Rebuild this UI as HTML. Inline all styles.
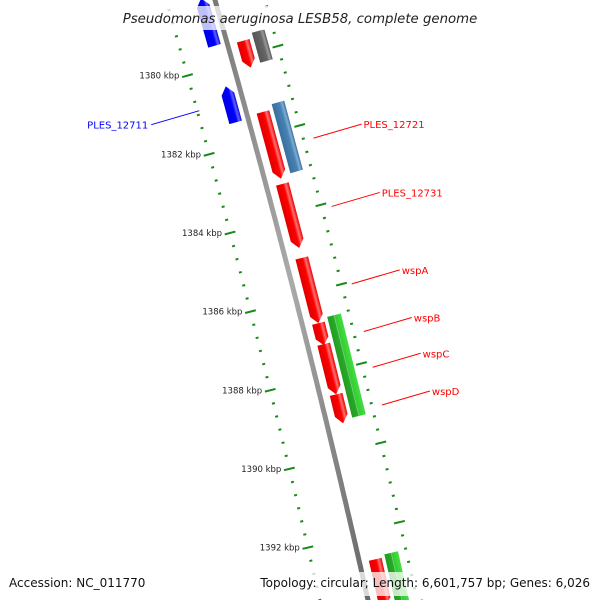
<!DOCTYPE html>
<html><head><meta charset="utf-8"><style>
body{margin:0;background:#fff}
svg{display:block;font-family:"DejaVu Sans","Liberation Sans",sans-serif}
</style></head><body>
<svg id="c" width="600" height="600" viewBox="0 0 600 600">
<defs>
<linearGradient id="gr" x1="0" x2="1"><stop offset="0" stop-color="#e00000"/><stop offset="0.55" stop-color="#ff0000"/><stop offset="0.75" stop-color="#ff7070"/><stop offset="1" stop-color="#e80000"/></linearGradient>
<linearGradient id="gb" x1="0" x2="1"><stop offset="0" stop-color="#0000e0"/><stop offset="0.6" stop-color="#0000ff"/><stop offset="0.8" stop-color="#6060ff"/><stop offset="1" stop-color="#0000e0"/></linearGradient>
<linearGradient id="gg" x1="0" x2="1"><stop offset="0" stop-color="#555"/><stop offset="0.6" stop-color="#666"/><stop offset="0.8" stop-color="#999"/><stop offset="1" stop-color="#555"/></linearGradient>
<linearGradient id="gs" x1="0" x2="1"><stop offset="0" stop-color="#3a6f9e"/><stop offset="0.6" stop-color="#4682b4"/><stop offset="0.8" stop-color="#80acd2"/><stop offset="1" stop-color="#3a6f9e"/></linearGradient>
<linearGradient id="gn" x1="0" x2="1"><stop offset="0" stop-color="#1e9e1e"/><stop offset="0.45" stop-color="#2aa82a"/><stop offset="0.5" stop-color="#7fd67f"/><stop offset="0.55" stop-color="#33cc33"/><stop offset="1" stop-color="#44dd44"/></linearGradient>
<linearGradient id="gl" x1="0" x2="1"><stop offset="0" stop-color="#777"/><stop offset="0.5" stop-color="#aaa"/><stop offset="1" stop-color="#666"/></linearGradient>
</defs>
<g id="ticks"></g>
<path id="backbone" fill="none" stroke="url(#gl)" stroke-width="5"/>
<g id="feats"></g>
<g id="labels"></g>
<rect x="114" y="6" width="372" height="24" fill="#fff" fill-opacity="0.75"/>
<text x="300" y="23" text-anchor="middle" font-size="13.3" font-style="italic" fill="#222">Pseudomonas aeruginosa LESB58, complete genome</text>
<rect x="4" y="572" width="142" height="24" fill="#fff" fill-opacity="0.75"/>
<text x="9" y="587" font-size="12" fill="#111">Accession: NC_011770</text>
<rect x="256" y="572" width="340" height="24" fill="#fff" fill-opacity="0.75"/>
<text x="590" y="587" text-anchor="end" font-size="12" fill="#111">Topology: circular; Length: 6,601,757 bp; Genes: 6,026</text>
</svg>
<script>
const featStart=[1377.87,1379.14,1379.01,1380.10,1380.94,1380.81,1382.76,1384.63,1386.28,1386.18,1386.81,1388.08,1392.25,1392.18];
const featEnd=[1379.07,1379.82,1379.77,1381.01,1382.63,1382.56,1384.38,1386.28,1386.84,1388.73,1388.08,1388.81,1393.44,1393.44];
const featRow=[-1,1,2,-1,1,2,1,1,1,2,1,1,1,2];
const featType=["blue","red","gray","blue","red","steel","red","red","red","green","red","red","red","green"];
const featStrand=[-1,1,0,-1,1,0,1,1,1,0,1,1,1,0];
const labelNames=["PLES_12711","PLES_12721","PLES_12731","wspA","wspB","wspC","wspD"];
const labelFeat=[3,5,6,7,9,10,11];
const labelKbp=[1380.5,1381.88,1383.6,1385.55,1386.75,1387.65,1388.6];
const majorTicks=[1380,1382,1384,1386,1388,1390,1392];
const NS="http://www.w3.org/2000/svg";
const Y0=79,PX=39.5,K0=1380;
function yOf(k){return Y0+(k-K0)*PX;}
function bx(y){return 215+0.285*y-0.00005*y*y;}
function ang(y){return Math.atan(0.285-0.0001*y);}
function pt(y,d){const a=ang(y);return [bx(y)+d*Math.cos(a),y-d*Math.sin(a)];}
function mk(t,attrs,parent){const e=document.createElementNS(NS,t);for(const k in attrs)e.setAttribute(k,attrs[k]);parent.appendChild(e);return e;}
let d="";for(let y=-10;y<=610;y+=5){const p=pt(y,0);d+=(y===-10?"M":"L")+p[0].toFixed(1)+" "+p[1].toFixed(1);}
document.getElementById("backbone").setAttribute("d",d);
const tg=document.getElementById("ticks");
for(let i=-8;i<=42;i++){
  const k=1380+i/3;
  const isMaj=(i%6===0);
  const y=yOf(k)-16;const a=ang(y),deg=-a*180/Math.PI;
  const p=pt(y,-47);
  const t=mk("rect",{x:isMaj?-5.5:-1.5,y:-1,width:isMaj?11:3,height:2,fill:"#1a8a1a",transform:`translate(${p[0]},${p[1]}) rotate(${deg})`},tg);
  
  
  const yr=yOf(k)-20;const ar=ang(yr);const pr=pt(yr,48);
  const t2=mk("rect",{x:isMaj?-5.5:-1.5,y:-1,width:isMaj?11:3,height:2,fill:"#1a8a1a",transform:`translate(${pr[0]},${pr[1]}) rotate(${-ar*180/Math.PI})`},tg);
  
  
}
majorTicks.forEach(k=>{
  const y=yOf(k)-16;const p=pt(y,-47);
  const t=mk("text",{x:p[0]-8,y:p[1]+3,"text-anchor":"end","font-size":"8.5",fill:"#222"},tg);
  t.textContent=k+" kbp";
  
  
});
const fg=document.getElementById("feats");
const fills={red:"url(#gr)",blue:"url(#gb)",gray:"url(#gg)",steel:"url(#gs)",green:"url(#gn)"};
const rowOff={"-1":-13,"1":16,"2":33};
for(let i=0;i<featStart.length;i++){
  const y1=yOf(featStart[i]),y2=yOf(featEnd[i]),ym=(y1+y2)/2;
  const a=ang(ym),L=(y2-y1)/Math.cos(a),w=featType[i]==="green"?14:13,h=w/2;
  const p=pt(ym,rowOff[featRow[i]]);
  let pts;const ah=Math.min(8,L/3);
  if(featStrand[i]===1)pts=`${-h},${-L/2} ${h},${-L/2} ${h},${L/2-ah} 0,${L/2} ${-h},${L/2-ah}`;
  else if(featStrand[i]===-1)pts=`0,${-L/2} ${h},${-L/2+ah} ${h},${L/2} ${-h},${L/2} ${-h},${-L/2+ah}`;
  else pts=`${-h},${-L/2} ${h},${-L/2} ${h},${L/2} ${-h},${L/2}`;
  const e=mk("polygon",{points:pts,fill:fills[featType[i]],transform:`translate(${p[0]},${p[1]}) rotate(${-a*180/Math.PI})`},fg);
  
  
}
const lg=document.getElementById("labels");
for(let j=0;j<labelNames.length;j++){
  const y=yOf(labelKbp[j]);const fi=labelFeat[j];
  const col=featType[fi]==="blue"?"#0000ff":"#ff0000";
  let x1,y1,x2,y2,tx,anchor;
  if(featRow[fi]===-1){const p=pt(y,-45);x1=p[0];y1=p[1];x2=x1-48;y2=y1+14;tx=x2-3;anchor="end";}
  else{const p=pt(y,58);x1=p[0];y1=p[1];x2=x1+48;y2=y1-14;tx=x2+2;anchor="start";}
  const l=mk("line",{x1,y1,x2,y2,stroke:col,"stroke-width":1},lg);
  
  
  const t=mk("text",{x:tx,y:y2+4,"text-anchor":anchor,"font-size":"10",fill:col},lg);
  t.textContent=labelNames[j];
  
  
}
</script>
</body></html>
